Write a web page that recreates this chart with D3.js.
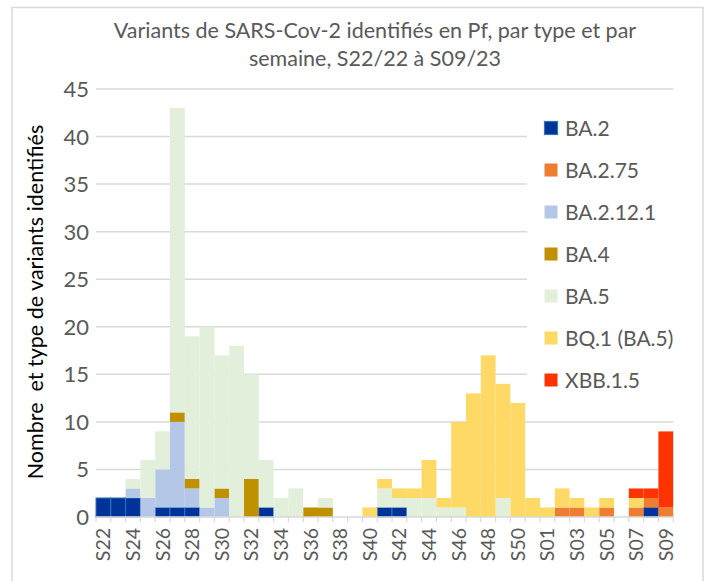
<!DOCTYPE html>
<html><head><meta charset="utf-8">
<script src="https://cdn.jsdelivr.net/npm/d3@7"></script>
<style>
body{margin:0;background:#fff;}
svg{font-family:Lato,"Open Sans",sans-serif;}
</style></head>
<body><svg id="c" width="707" height="581"></svg>
<script>
const weeks = ["S22","S23","S24","S25","S26","S27","S28","S29","S30","S31","S32","S33","S34","S35","S36","S37","S38","S39","S40","S41","S42","S43","S44","S45","S46","S47","S48","S49","S50","S51","S01","S02","S03","S04","S05","S06","S07","S08","S09"];
const seriesNames = ["BA.2","BA.2.75","BA.2.12.1","BA.4","BA.5","BQ.1 (BA.5)","XBB.1.5"];
const colors = ["#003399","#ED7D31","#B4C7E7","#BF9000","#E2EFDA","#FFD966","#FF3300"];
const BA2      = [2,2,2,0,1,1,1,0,0,0,0,1,0,0,0,0,0,0,0,1,1,0,0,0,0,0,0,0,0,0,0,0,0,0,0,0,0,1,0];
const BA275    = [0,0,0,0,0,0,0,0,0,0,0,0,0,0,0,0,0,0,0,0,0,0,0,0,0,0,0,0,0,0,0,1,1,0,1,0,1,1,1];
const BA2121   = [0,0,1,2,4,9,2,1,2,0,0,0,0,0,0,0,0,0,0,0,0,0,0,0,0,0,0,0,0,0,0,0,0,0,0,0,0,0,0];
const BA4      = [0,0,0,0,0,1,1,0,1,0,4,0,0,0,1,1,0,0,0,0,0,0,0,0,0,0,0,0,0,0,0,0,0,0,0,0,0,0,0];
const BA5      = [0,0,1,4,4,32,15,19,14,18,11,5,2,3,0,1,0,0,0,2,1,2,2,1,1,0,0,2,0,0,0,0,0,0,0,0,0,0,0];
const BQ1      = [0,0,0,0,0,0,0,0,0,0,0,0,0,0,0,0,0,0,1,1,1,1,4,1,9,13,17,12,12,2,1,2,1,1,1,0,1,0,0];
const XBB15    = [0,0,0,0,0,0,0,0,0,0,0,0,0,0,0,0,0,0,0,0,0,0,0,0,0,0,0,0,0,0,0,0,0,0,0,0,1,1,8];
const yTicks = [0,5,10,15,20,25,30,35,40,45];
const xLabels = ["S22","S24","S26","S28","S30","S32","S34","S36","S38","S40","S42","S44","S46","S48","S50","S01","S03","S05","S07","S09"];

const allSeries = [BA2,BA275,BA2121,BA4,BA5,BQ1,XBB15];
const table = weeks.map((w,i)=>{const o={week:w}; seriesNames.forEach((s,j)=>o[s]=allSeries[j][i]); return o;});

const svg = d3.select("#c");
const grey = "#595959";
// outer frame
svg.append("rect").attr("x",12).attr("y",7.5).attr("width",691).attr("height",580)
  .attr("fill","#fff").attr("stroke","#D9D9D9").attr("stroke-width",1.5);

const x = d3.scaleBand().domain(weeks).range([96,673.2]).padding(0);
const y = d3.scaleLinear().domain([0,45]).range([517,89]);

// gridlines
svg.append("g").selectAll("line").data(yTicks.filter(d=>d>0)).join("line")
  .attr("x1",96).attr("x2",673.2).attr("y1",d=>y(d)).attr("y2",d=>y(d))
  .attr("stroke","#D9D9D9").attr("stroke-width",1.5);

const stack = d3.stack().keys(seriesNames)(table);
const g = svg.append("g");
stack.forEach((layer,j)=>{
  g.selectAll(null).data(layer.filter(d=>d[1]>d[0])).join("rect")
    .attr("x",d=>x(d.data.week)).attr("width",x.bandwidth())
    .attr("y",d=>y(d[1])).attr("height",d=>y(d[0])-y(d[1]))
    .attr("fill",colors[j])
    .attr("stroke", j===0 ? "#2E75B6" : "none").attr("stroke-width", j===0?1:0);
});

// x axis baseline and ticks
const xa = svg.append("g").attr("transform","translate(0,517)");
xa.append("line").attr("x1",96).attr("x2",673.2).attr("stroke","#D9D9D9").attr("stroke-width",1.5);
xa.selectAll(".tk").data(d3.range(weeks.length+1)).join("line")
  .attr("x1",i=>96+i*x.step()).attr("x2",i=>96+i*x.step()).attr("y1",0).attr("y2",5)
  .attr("stroke","#D9D9D9").attr("stroke-width",1.2);
xa.selectAll("text").data(xLabels).join("text")
  .attr("transform",d=>`translate(${x(d)+x.bandwidth()/2+7},11) rotate(-90)`)
  .attr("text-anchor","end").attr("fill",grey).attr("font-size",19.5).text(d=>d);

// y axis labels
svg.append("g").selectAll("text").data(yTicks).join("text")
  .attr("x",89).attr("y",d=>y(d)+8).attr("text-anchor","end")
  .attr("fill",grey).attr("font-size",22).text(d=>d);

// y title
svg.append("text").attr("transform","translate(43,302) rotate(-90)")
  .attr("text-anchor","middle").attr("fill","#000").attr("font-size",21.5)
  .style("white-space","pre").text("Nombre  et type de variants identifiés");

// title
svg.append("text").attr("x",375).attr("y",38).attr("text-anchor","middle")
  .attr("fill",grey).attr("font-size",21.5).text("Variants de SARS-Cov-2 identifiés en Pf, par type et par");
svg.append("text").attr("x",375).attr("y",66).attr("text-anchor","middle")
  .attr("fill",grey).attr("font-size",21.5).text("semaine, S22/22 à S09/23");

// legend
const lg = svg.append("g");
lg.append("rect").attr("x",527).attr("y",104).attr("width",170).attr("height",290).attr("fill","#fff");
const items = lg.selectAll("g").data(seriesNames).join("g")
  .attr("transform",(d,i)=>`translate(544,${128+i*42})`);
items.append("rect").attr("x",0.5).attr("y",-6.5).attr("width",13).attr("height",13)
  .attr("fill",(d,i)=>colors[i]).attr("stroke",(d,i)=>i===0?"#2E75B6":"none").attr("stroke-width",1.2);
items.append("text").attr("x",21).attr("y",7.5).attr("fill",grey).attr("font-size",21).text(d=>d);
</script></body></html>
